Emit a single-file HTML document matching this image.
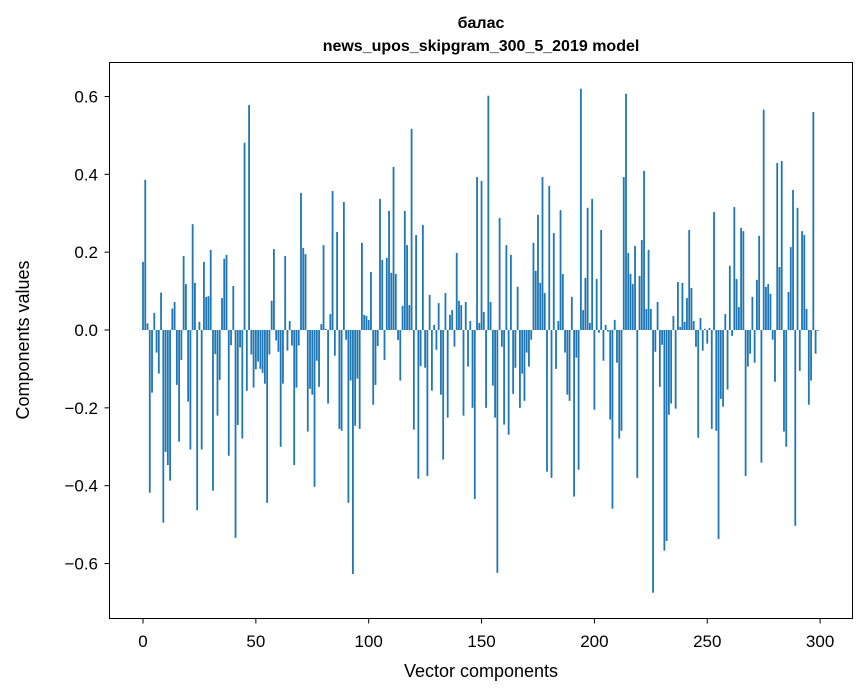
<!DOCTYPE html>
<html><head><meta charset="utf-8"><style>
html,body{margin:0;padding:0;background:#fff;}
svg{display:block;font-family:"Liberation Sans","DejaVu Sans",sans-serif;}
</style></head><body>
<svg id="chart" width="867" height="696" viewBox="0 0 867 696" xmlns="http://www.w3.org/2000/svg">
<rect width="867" height="696" fill="#fff"/>
<text x="481" y="28" text-anchor="middle" font-size="16" font-weight="bold">балас</text>
<text x="481" y="51" text-anchor="middle" font-size="16" font-weight="bold">news_upos_skipgram_300_5_2019 model</text>
<g id="bars"></g>
<rect x="109.5" y="62.5" width="743" height="556" fill="none" stroke="#000" stroke-width="1"/>
<g id="xticks"></g>
<g id="yticks"></g>
<text x="481" y="677" text-anchor="middle" font-size="18">Vector components</text>
<text transform="translate(29,340) rotate(-90)" text-anchor="middle" font-size="18">Components values</text>
</svg>
<script>
const values = [
0.175,0.386,0.017,-0.418,-0.161,0.044,-0.058,-0.112,0.096,-0.495,
-0.313,-0.347,-0.387,0.055,0.072,-0.141,-0.287,-0.077,0.19,0.118,
-0.184,-0.307,0.272,0.121,-0.463,0.021,-0.307,0.175,0.085,0.087,
0.206,-0.413,-0.062,-0.22,-0.128,0.082,0.183,0.193,-0.323,-0.039,
0.113,-0.534,-0.244,-0.045,-0.279,0.481,-0.156,0.578,-0.063,-0.148,
-0.101,-0.081,-0.1,-0.11,-0.138,-0.444,-0.063,0.075,0.208,-0.027,
-0.056,-0.3,-0.138,0.19,-0.053,0.023,-0.04,-0.347,-0.148,-0.04,
0.352,0.211,0.195,-0.261,-0.151,-0.166,-0.403,-0.079,-0.146,0.015,
0.218,0.003,-0.189,0.041,0.357,-0.066,0.252,-0.254,-0.259,0.329,
-0.025,-0.444,-0.13,-0.627,-0.246,-0.125,-0.254,0.224,0.039,0.036,
0.026,0.149,-0.192,-0.141,-0.041,0.337,0.18,-0.077,0.185,0.306,
0.147,0.419,0.144,-0.026,-0.13,0.062,0.306,0.218,0.064,0.517,
-0.256,0.244,-0.382,-0.093,0.27,-0.097,-0.375,0.09,-0.156,0.013,
-0.051,0.069,-0.166,-0.333,0.095,-0.225,0.039,0.051,-0.043,0.198,
0.075,0.064,-0.22,0.072,-0.094,0.023,-0.2,-0.434,0.393,0.018,
0.383,0.046,-0.2,0.602,0.072,-0.143,-0.225,-0.624,0.288,-0.043,
-0.243,0.218,-0.269,0.193,-0.164,-0.097,0.111,-0.2,-0.112,-0.182,
-0.058,-0.094,-0.025,0.224,0.152,0.296,0.121,0.393,0.095,-0.364,
0.37,-0.38,0.249,-0.1,0.023,0.308,0.144,-0.058,-0.166,-0.182,
0.085,-0.428,-0.071,-0.359,0.62,0.051,0.134,0.314,0.018,0.337,
-0.205,0.131,-0.007,0.257,-0.079,0.013,-0.004,-0.23,-0.459,0.026,
-0.084,-0.279,-0.259,0.393,0.607,0.198,0.144,0.118,0.216,-0.38,
0.139,0.231,0.409,0.054,0.206,0.054,-0.675,-0.056,0.072,-0.146,
-0.038,-0.567,-0.542,-0.218,-0.189,0.036,-0.202,0.123,0.008,0.121,
0.021,0.082,0.257,0.108,0.023,-0.043,-0.277,0.031,-0.053,0.003,
-0.035,0.005,-0.254,0.303,-0.259,-0.537,-0.177,-0.197,0.041,-0.153,
0.165,-0.015,0.316,0.131,0.059,0.262,0.254,-0.375,-0.094,-0.061,
0.085,-0.084,0.129,0.242,-0.341,0.566,0.111,0.118,0.093,-0.025,
-0.133,0.429,0.162,0.434,-0.261,-0.3,0.098,0.213,0.36,-0.503,
0.314,-0.105,0.254,0.244,0.054,-0.192,-0.13,0.56,-0.061,-0.002
];
const xTicks = [0,50,100,150,200,250,300];
const yTicks = [-0.6,-0.4,-0.2,0,0.2,0.4,0.6];
const yTickLabels = ["\u22120.6","\u22120.4","\u22120.2","0.0","0.2","0.4","0.6"];

const NS = "http://www.w3.org/2000/svg";
function xs(v){ return 143 + v*2.257; }
function ys(v){ return 330 - v*389.2; }
const bw = 0.8*2.257;
const gb = document.getElementById('bars');
values.forEach((v,i)=>{
  const r = document.createElementNS(NS,'rect');
  const y0 = ys(0), y1 = ys(v);
  r.setAttribute('x', xs(i)-bw/2);
  r.setAttribute('y', Math.min(y0,y1));
  r.setAttribute('width', bw);
  r.setAttribute('height', Math.max(Math.abs(y1-y0),0.3));
  r.setAttribute('fill', '#1f77b4');
  
  
  gb.appendChild(r);
});
const gx = document.getElementById('xticks');
xTicks.forEach(t=>{
  const l = document.createElementNS(NS,'line');
  l.setAttribute('x1', xs(t)); l.setAttribute('x2', xs(t));
  l.setAttribute('y1', 618.5); l.setAttribute('y2', 623.5);
  l.setAttribute('stroke', '#000');
  
  
  gx.appendChild(l);
  const tx = document.createElementNS(NS,'text');
  tx.setAttribute('x', xs(t)); tx.setAttribute('y', 647);
  tx.setAttribute('text-anchor', 'middle'); tx.setAttribute('font-size', '17');
  tx.textContent = t;
  
  
  gx.appendChild(tx);
});
const gy = document.getElementById('yticks');
yTicks.forEach((t,k)=>{
  const l = document.createElementNS(NS,'line');
  l.setAttribute('x1', 104.5); l.setAttribute('x2', 109.5);
  l.setAttribute('y1', ys(t)); l.setAttribute('y2', ys(t));
  l.setAttribute('stroke', '#000');
  
  
  gy.appendChild(l);
  const tx = document.createElementNS(NS,'text');
  tx.setAttribute('x', 98); tx.setAttribute('y', ys(t)+6);
  tx.setAttribute('text-anchor', 'end'); tx.setAttribute('font-size', '17');
  tx.textContent = yTickLabels[k];
  
  
  gy.appendChild(tx);
});
</script>
</body></html>
